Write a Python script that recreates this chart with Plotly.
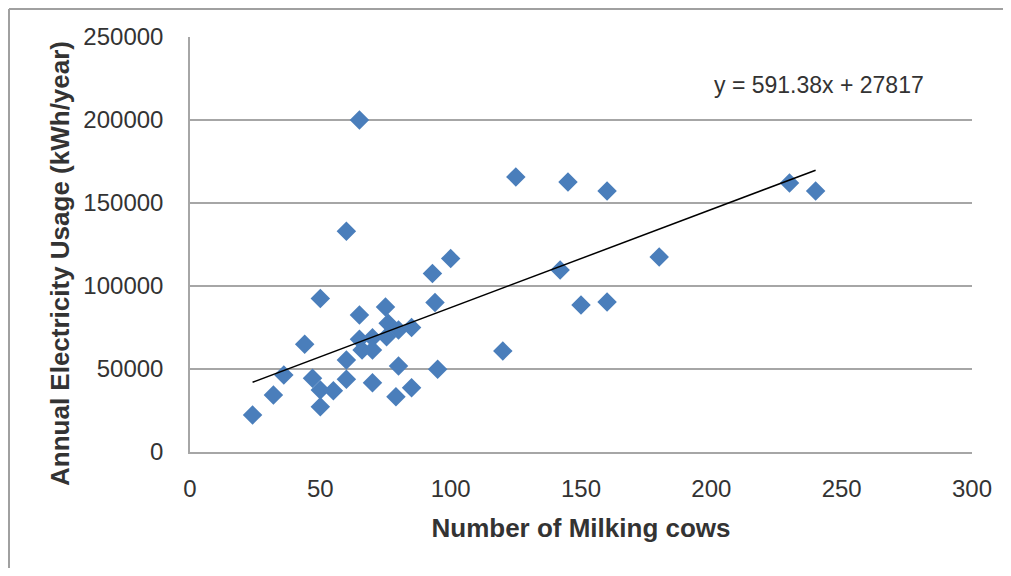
import plotly.graph_objects as go

cows = [24, 32, 36, 44, 47, 50, 50, 50, 55, 60, 60, 60, 65, 65, 66, 65, 70, 70, 70,
        75, 75.4, 76, 80, 80, 79, 85, 85, 93, 94, 95, 100, 120, 125, 142, 145, 150,
        160, 160, 180, 230, 240]
kwh = [22300, 34300, 46400, 64900, 44400, 92500, 37300, 27300, 36900, 43800, 55400,
       133000, 82500, 67900, 61400, 200000, 41700, 68900, 61400, 87300, 69500, 77500,
       73500, 51800, 33300, 75000, 38700, 107500, 90000, 49800, 116500, 60800, 165700,
       109600, 162700, 88600, 157200, 90400, 117500, 162000, 157200]

slope = 591.38
intercept = 27817
x_ticks = [0, 50, 100, 150, 200, 250, 300]
y_ticks = [0, 50000, 100000, 150000, 200000, 250000]

trend_x = [min(cows), max(cows)]
trend_y = [slope * v + intercept for v in trend_x]

FONT = "Liberation Sans, Arial, sans-serif"
TXT = "#333333"
GRID = "#A6A6A6"

# plot area in page pixels: x 190..972, y 37..452 (page has 8px body margin)
def px(p):
    return (p - 190) / 782

def py(p):
    return (452 - p) / 415

fig = go.Figure()
fig.add_trace(go.Scatter(
    x=cows, y=kwh, mode="markers",
    marker=dict(symbol="diamond", size=15, color="#4A7EBB", line=dict(width=0)),
    showlegend=False, hoverinfo="x+y"))
fig.add_trace(go.Scatter(
    x=trend_x, y=trend_y, mode="lines",
    line=dict(color="#000000", width=1.5), showlegend=False, hoverinfo="skip"))

fig.update_layout(
    width=995, height=560,
    margin=dict(l=182, r=31, t=29, b=116),
    paper_bgcolor="white", plot_bgcolor="white",
    font=dict(family=FONT, color=TXT, size=24),
    xaxis=dict(range=[0, 300], tickvals=x_ticks, showgrid=False, zeroline=False,
               showline=True, linecolor=GRID, linewidth=1.5, ticks="",
               ticklabelstandoff=14, tickfont=dict(size=24, color=TXT),
               title=dict(text="<b>Number of Milking cows</b>", standoff=18,
                          font=dict(size=26, color=TXT))),
    yaxis=dict(range=[0, 250000], tickvals=y_ticks, tickformat="d", showgrid=True,
               gridcolor=GRID, gridwidth=1.5, zeroline=False, showline=True,
               linecolor=GRID, linewidth=1.5, ticks="", ticklabelstandoff=20,
               tickfont=dict(size=24, color=TXT)),
    annotations=[
        dict(text="y = 591.38x + 27817", x=px(819), y=py(85), xref="paper", yref="paper",
             xanchor="center", yanchor="middle", showarrow=False,
             font=dict(size=23, color=TXT)),
        dict(text="<b>Annual Electricity Usage (kWh/year)</b>", x=px(60), y=py(264),
             xref="paper", yref="paper", xanchor="center", yanchor="middle",
             textangle=-90, showarrow=False, font=dict(size=26, color=TXT)),
    ],
    shapes=[
        dict(type="line", xref="paper", yref="paper",
             x0=px(9), x1=px(1011), y0=py(9), y1=py(9),
             line=dict(color="#A0A0A0", width=2)),
        dict(type="line", xref="paper", yref="paper",
             x0=px(9), x1=px(9), y0=py(9), y1=py(576),
             line=dict(color="#A0A0A0", width=2)),
    ],
)

fig.write_html("out.html")
